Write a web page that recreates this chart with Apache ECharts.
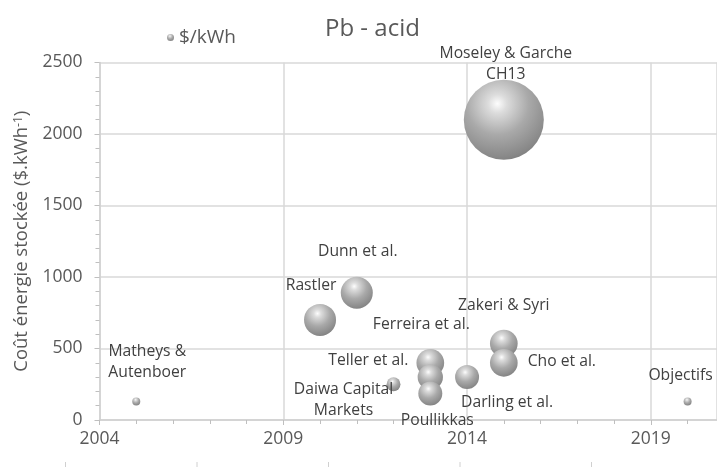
<!DOCTYPE html>
<html>
<head>
<meta charset="utf-8">
<script src="https://cdn.jsdelivr.net/npm/echarts@6/dist/echarts.min.js"></script>
<style>
  html, body { margin: 0; padding: 0; background: #fff; }
  #chart { width: 717px; height: 467px; }
</style>
</head>
<body>
<div id="chart"></div>
<script>
// Storage cost of lead-acid batteries by source and year
const sources = [
  'Matheys &\nAutenboer', 'Rastler', 'Dunn et al.', 'Daiwa Capital\nMarkets',
  'Teller et al.', 'Ferreira et al.', 'Poullikkas', 'Darling et al.',
  'Zakeri & Syri', 'Cho et al.', 'Moseley & Garche\nCH13', 'Objectifs'
];
const years = [2005, 2010, 2011, 2012, 2013, 2013, 2013, 2014, 2015, 2015, 2015, 2020];
const costs = [130, 700, 890, 250, 400, 300, 185, 300, 535, 400, 2100, 130];
const weights = [1, 16, 16, 3, 12, 10, 9, 9, 12, 12, 100, 1];

const xTicks = [2004, 2009, 2014, 2019];
const yTicks = [0, 500, 1000, 1500, 2000, 2500];

// Where each source's label sits relative to its bubble
const labelOffset = {
  'Matheys &\nAutenboer': [11, -39],
  'Rastler': [-9, -34],
  'Dunn et al.': [1, -41],
  'Daiwa Capital\nMarkets': [-50, 16],
  'Teller et al.': [-62, -2],
  'Ferreira et al.': [-9, -53],
  'Poullikkas': [7, 27],
  'Darling et al.': [40, 25],
  'Zakeri & Syri': [0, -38],
  'Cho et al.': [58, -1],
  'Moseley & Garche\nCH13': [2, -56],
  'Objectifs': [-7, -26]
};

const sphere = new echarts.graphic.RadialGradient(0.42, 0.3, 0.78, [
  { offset: 0, color: '#fdfdfd' },
  { offset: 0.15, color: '#dcdcdc' },
  { offset: 0.5, color: '#a9a9a9' },
  { offset: 0.85, color: '#898989' },
  { offset: 1, color: '#787878' }
]);

const points = sources.map((name, i) => ({
  name: name,
  value: [years[i], costs[i], weights[i]]
}));

const font = '"Open Sans", sans-serif';
const grey = '#595959';

const chart = echarts.init(document.getElementById('chart'), null, { renderer: 'canvas' });
chart.setOption({
  animation: false,
  textStyle: { fontFamily: font },
  title: {
    text: 'Pb - acid',
    left: 320, top: 12,
    textStyle: { fontSize: 24, fontWeight: 'normal', color: grey, fontFamily: font }
  },
  legend: {
    left: 162, top: 23,
    itemWidth: 7, itemHeight: 7, itemGap: 4,
    textStyle: { fontSize: 19, color: grey, fontFamily: font },
    data: [{ name: '$/kWh', icon: 'circle' }]
  },
  grid: { left: 99.5, right: 0, top: 62.5, bottom: 47 },
  xAxis: {
    type: 'value',
    min: xTicks[0], max: 2020.8, interval: 5,
    axisLine: { show: true, lineStyle: { color: '#d0d0d0', width: 1.5 } },
    axisTick: { show: true, length: 5, lineStyle: { color: '#bfbfbf' } },
    minorTick: { show: true, splitNumber: 5, length: 4, lineStyle: { color: '#bfbfbf' } },
    splitLine: { show: true, lineStyle: { color: '#d9d9d9', width: 1.5 } },
    axisLabel: {
      fontSize: 17.5, color: grey, margin: 10, fontFamily: font,
      showMaxLabel: false,
      formatter: v => (xTicks.indexOf(v) >= 0 ? String(v) : '')
    }
  },
  yAxis: {
    type: 'value',
    min: yTicks[0], max: yTicks[yTicks.length - 1], interval: 500,
    name: 'Coût énergie stockée ($.kWh{sup|-1})',
    nameLocation: 'middle', nameGap: 68, nameRotate: 90,
    nameTextStyle: {
      fontSize: 18.5, color: grey, fontFamily: font,
      rich: { sup: { fontSize: 12, color: grey, verticalAlign: 'top', fontFamily: font } }
    },
    axisLine: { show: true, lineStyle: { color: '#d0d0d0', width: 1.5 } },
    axisTick: { show: true, length: 5, lineStyle: { color: '#bfbfbf' } },
    minorTick: { show: true, splitNumber: 5, length: 4, lineStyle: { color: '#bfbfbf' } },
    splitLine: { show: true, lineStyle: { color: '#d9d9d9', width: 1.5 } },
    axisLabel: {
      fontSize: 17.5, color: grey, margin: 17, fontFamily: font,
      formatter: v => String(v)
    }
  },
  series: [{
    name: '$/kWh',
    type: 'scatter',
    data: points,
    symbol: 'circle',
    symbolSize: v => 80 * Math.sqrt(v[2] / 100),
    itemStyle: { color: sphere, opacity: 1 },
    label: {
      show: true,
      position: 'inside',
      align: 'center',
      verticalAlign: 'middle',
      formatter: p => p.name,
      fontSize: 15.7, lineHeight: 21,
      color: '#404040', fontFamily: font
    },
    labelLayout: p => {
      const off = labelOffset[sources[p.dataIndex]];
      return { dx: off[0], dy: off[1], hideOverlap: false };
    },
    z: 3
  }],
  graphic: [65.5, 197, 328.5, 460, 591.5].map(x => ({
    type: 'line',
    shape: { x1: x, y1: 462, x2: x, y2: 467 },
    style: { stroke: '#d0d0d0', lineWidth: 1 },
    silent: true
  }))
});
</script>
</body>
</html>
